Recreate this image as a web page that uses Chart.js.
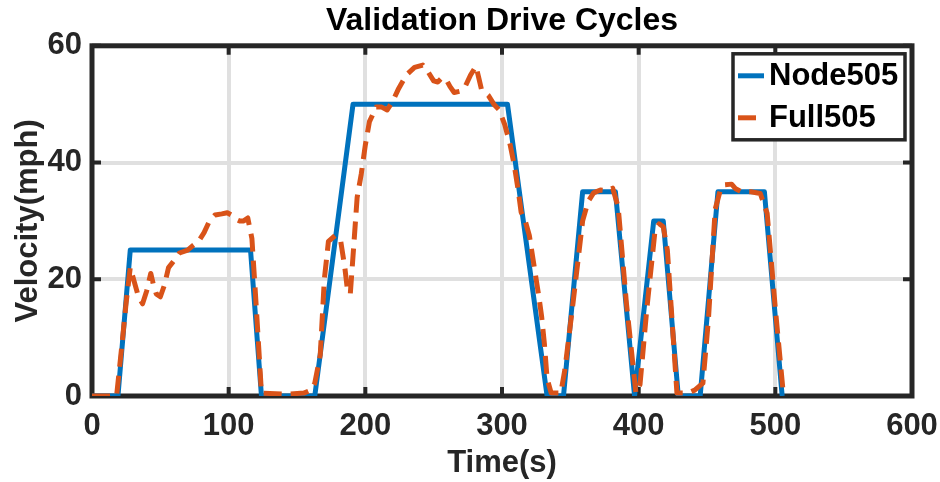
<!DOCTYPE html>
<html>
<head>
<meta charset="utf-8">
<script src="https://cdn.jsdelivr.net/npm/chart.js"></script>
<style>
  html, body { margin: 0; padding: 0; background: #fff; }
</style>
</head>
<body>
<canvas id="chart" width="940" height="482"></canvas>
<script>
// Validation drive cycles: reduced model (Node505) vs full model (Full505)

const timeTicks = [0, 100, 200, 300, 400, 500, 600];
const velTicks = [0, 20, 40, 60];

const nodeTime = [0, 19, 28, 116, 124, 163, 191, 304, 333, 345, 359, 383, 397, 411, 418, 429, 445, 458, 492, 505];
const nodeVel = [0, 0, 25, 25, 0, 0, 50, 50, 0, 0, 35, 35, 0, 30, 30, 0, 0, 35, 35, 0];

const fullTime = [
  0, 18, 22, 25, 28, 31, 34, 37, 40, 43, 45, 47, 50, 53, 56, 60, 64, 70, 74, 78,
  82, 86, 90, 95, 99, 102, 105, 108, 111, 114, 117, 120, 124, 141, 155, 160, 163, 167, 170, 173,
  178, 182, 185, 187, 189, 191, 194, 197, 200, 203, 208, 212, 216, 220, 224, 230, 236, 242, 246, 250,
  253, 256, 259, 262, 265, 269, 273, 277, 281, 283, 285, 290, 294, 298, 302, 306, 309, 312, 314, 317,
  320, 324, 327, 329, 331, 333, 336, 343, 346, 352, 359, 363, 367, 372, 377, 381, 385, 391, 398, 401,
  406, 412, 415, 418, 421, 428, 436, 441, 447, 451, 456, 460, 463, 468, 471, 475, 482, 489, 494, 500,
  506
];
const fullVel = [
  0, 0, 9, 16, 22, 19.5, 17, 15.8, 18, 21, 19, 17.5, 17, 19, 22, 23.2, 24.5, 25, 25.8, 26.5,
  28, 30, 31, 31.2, 31.4, 31, 30.3, 30, 30, 30.5, 27, 16, 0.5, 0.3, 0.5, 1, 2.2, 7, 20, 26.5,
  27.5, 26.5, 22, 18, 17.5, 24, 34, 38, 43, 47, 49.5, 49.5, 49, 50.5, 52.5, 55, 56.3, 56.7, 55.5, 54,
  53.8, 54.5, 54.3, 53, 52, 52.2, 53, 55, 56.5, 54.5, 52.5, 51.5, 50, 49, 46.5, 43, 39.5, 35, 31.5, 30,
  27.5, 21.5, 17, 13.6, 9, 3, 0.5, 0.5, 4.5, 16, 30, 33.3, 34.8, 35.3, 35.2, 35.6, 32.4, 16, 0.5, 2,
  15, 28.4, 29.5, 29, 25, 0.5, 0.5, 1, 2.2, 13, 32, 35.5, 36.2, 36.3, 35.5, 35, 35, 34.7, 31.3, 15,
  0
];

const FONT = "'Liberation Sans', Arial, Helvetica, sans-serif";
const AXIS_COLOR = "#262626";

function toPoints(xs, ys) {
  return xs.map((x, i) => ({ x: x, y: ys[i] }));
}

// MATLAB style box, inward ticks and a boxed legend in the upper right
const matlabAxes = {
  id: "matlabAxes",
  afterLayout(chart) {
    // center the title over the axes, not the whole canvas
    const tb = chart.titleBlock;
    if (tb) {
      tb.left = chart.chartArea.left;
      tb.right = chart.chartArea.right;
      tb.width = tb.right - tb.left;
    }
  },
  beforeDatasetsDraw(chart) {
    const { ctx, chartArea: a, scales } = chart;
    const len = 9;
    ctx.save();
    ctx.strokeStyle = AXIS_COLOR;
    ctx.lineWidth = 4;
    ctx.beginPath();
    scales.x.ticks.forEach((t) => {
      const px = scales.x.getPixelForValue(t.value);
      ctx.moveTo(px, a.bottom);
      ctx.lineTo(px, a.bottom - len);
      ctx.moveTo(px, a.top);
      ctx.lineTo(px, a.top + len);
    });
    scales.y.ticks.forEach((t) => {
      const py = scales.y.getPixelForValue(t.value);
      ctx.moveTo(a.left, py);
      ctx.lineTo(a.left + len, py);
      ctx.moveTo(a.right, py);
      ctx.lineTo(a.right - len, py);
    });
    ctx.stroke();
    ctx.lineWidth = 5;
    ctx.strokeRect(a.left, a.top, a.right - a.left, a.bottom - a.top);
    ctx.restore();
  },
  afterDraw(chart) {
    const { ctx, chartArea: a } = chart;
    const w = 172, h = 86;
    const bx = a.right - 7 - w, by = a.top + 8;
    ctx.save();
    ctx.fillStyle = "#fff";
    ctx.fillRect(bx, by, w, h);
    ctx.strokeStyle = AXIS_COLOR;
    ctx.lineWidth = 3.5;
    ctx.strokeRect(bx, by, w, h);
    ctx.font = "bold 31px " + FONT;
    ctx.textBaseline = "middle";
    ctx.textAlign = "left";
    chart.data.datasets.forEach((ds, i) => {
      const ly = by + 22 + i * 42;
      ctx.strokeStyle = ds.borderColor;
      ctx.lineWidth = ds.borderWidth;
      ctx.setLineDash(ds.borderDash || []);
      ctx.beginPath();
      ctx.moveTo(bx + 5, ly);
      ctx.lineTo(bx + 31, ly);
      ctx.stroke();
      ctx.setLineDash([]);
      ctx.fillStyle = "#000";
      ctx.fillText(ds.label, bx + 36, ly + 1);
    });
    ctx.restore();
  },
};

new Chart(document.getElementById("chart"), {
  type: "line",
  data: {
    datasets: [
      {
        label: "Node505",
        data: toPoints(nodeTime, nodeVel),
        borderColor: "#0072BD",
        borderWidth: 5,
        borderJoinStyle: "round",
        pointRadius: 0,
        tension: 0,
        order: 1,
      },
      {
        label: "Full505",
        data: toPoints(fullTime, fullVel),
        borderColor: "#D95319",
        borderWidth: 5,
        borderDash: [18, 9],
        borderJoinStyle: "round",
        pointRadius: 0,
        tension: 0,
        order: 0,
      },
    ],
  },
  options: {
    responsive: false,
    animation: false,
    layout: { padding: { left: 0, right: 28, top: 0, bottom: 0 } },
    plugins: {
      legend: { display: false },
      tooltip: { enabled: false },
      title: {
        display: true,
        text: "Validation Drive Cycles",
        color: "#000",
        font: { family: FONT, size: 32, weight: "bold", lineHeight: 1.15 },
        padding: { top: 3, bottom: 6 },
      },
    },
    scales: {
      x: {
        type: "linear",
        min: 0,
        max: 600,
        afterBuildTicks: (s) => { s.ticks = timeTicks.map((v) => ({ value: v })); },
        afterFit: (s) => { s.height = 86; s.paddingLeft = 0; s.paddingRight = 0; },
        grid: { color: "#e0e0e0", lineWidth: 4, drawTicks: false },
        border: { display: false },
        ticks: {
          color: AXIS_COLOR,
          padding: 12,
          maxRotation: 0,
          font: { family: FONT, size: 31, weight: "bold" },
        },
        title: {
          display: true,
          text: "Time(s)",
          color: AXIS_COLOR,
          font: { family: FONT, size: 31, weight: "bold", lineHeight: 1.2 },
          padding: { top: 0, bottom: 0 },
        },
      },
      y: {
        type: "linear",
        min: 0,
        max: 60,
        afterBuildTicks: (s) => { s.ticks = velTicks.map((v) => ({ value: v })); },
        afterFit: (s) => { s.width = 92; },
        grid: { color: "#e0e0e0", lineWidth: 4, drawTicks: false },
        border: { display: false },
        ticks: {
          color: AXIS_COLOR,
          padding: 10,
          font: { family: FONT, size: 31, weight: "bold" },
        },
        title: {
          display: true,
          text: "Velocity(mph)",
          color: AXIS_COLOR,
          font: { family: FONT, size: 31, weight: "bold", lineHeight: 1.2 },
          padding: { top: 10, bottom: 0 },
        },
      },
    },
  },
  plugins: [matlabAxes],
});
</script>
</body>
</html>
